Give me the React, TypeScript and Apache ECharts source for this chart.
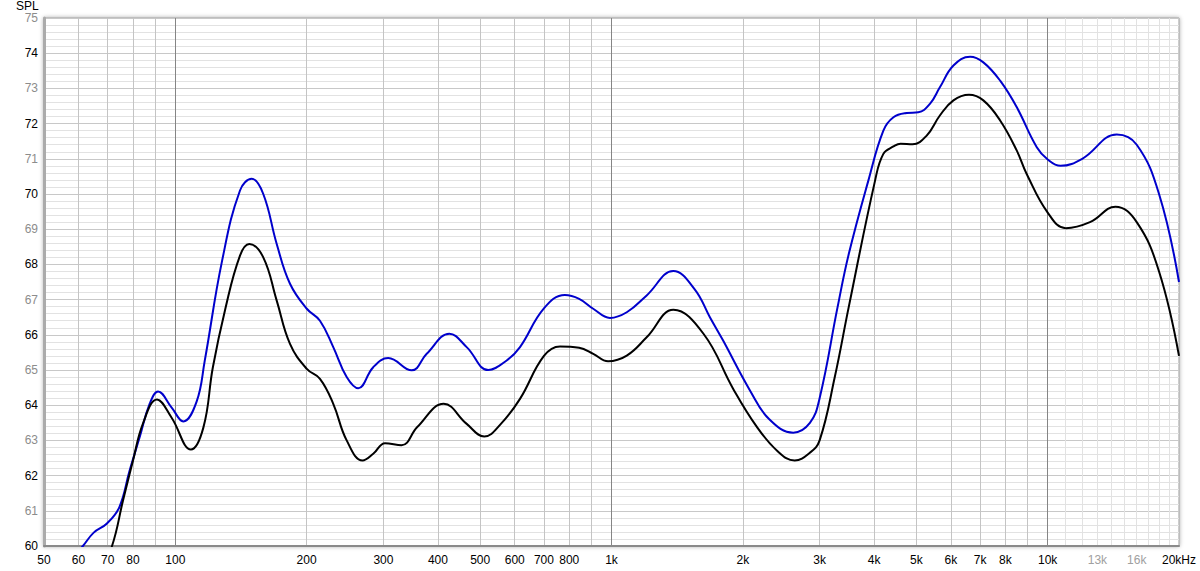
import React, { useEffect, useRef } from "react";
import * as echarts from "echarts";

// Frequency response data (Hz, dB SPL)
const blueFreq = [57, 61.4, 65, 69.7, 74.4, 78.6, 82.8, 87.4, 91.3, 98, 104.3, 111.9, 116.8, 128, 140.7, 149.7, 159.1, 170.8, 183.2, 200.2, 214.6, 230.2, 247.1, 262.7, 284.3, 307.7, 348.3, 377, 424.9, 465.6, 521.7, 575, 616.9, 700, 782, 843, 908, 992, 1084, 1204, 1386, 1550, 1681, 1800, 2077, 2300, 2610, 2850, 3000, 3300, 3500, 3880, 4200, 4430, 4750, 5050, 5370, 5660, 6080, 6640, 7120, 7780, 8490, 9440, 10000, 10700, 12000, 14400, 16000, 18000, 20000];
const blueSpl = [59.55, 60.0, 60.38, 60.64, 61.1, 62.15, 63.08, 64.05, 64.39, 63.94, 63.54, 64.1, 65.26, 68.1, 70.1, 70.43, 70.0, 68.58, 67.45, 66.74, 66.4, 65.65, 64.8, 64.48, 65.08, 65.34, 64.99, 65.46, 66.03, 65.65, 65.0, 65.27, 65.65, 66.75, 67.13, 67.02, 66.74, 66.48, 66.64, 67.12, 67.81, 67.3, 66.5, 65.85, 64.42, 63.6, 63.22, 63.5, 64.2, 66.8, 68.3, 70.38, 71.8, 72.18, 72.3, 72.32, 72.56, 73.03, 73.65, 73.9, 73.74, 73.22, 72.47, 71.33, 70.98, 70.8, 71.0, 71.69, 71.4, 70.0, 67.5];

const blackFreq = [68, 71.6, 75.9, 80, 84.3, 90.8, 98, 108.6, 116, 121.9, 130, 140.7, 147.8, 159.1, 170.8, 183.2, 200.2, 214.6, 230.2, 247.1, 268.7, 284.3, 302.6, 330, 358.7, 412.4, 465.6, 510.9, 557.7, 616.9, 700, 762, 843, 908, 982, 1084, 1204, 1386, 1625, 1900, 2150, 2400, 2630, 2850, 3000, 3250, 3500, 4020, 4200, 4430, 4600, 4900, 5280, 5660, 6080, 6600, 7120, 7780, 8490, 8950, 10000, 11000, 12500, 14300, 16000, 18000, 20000];
const blackSpl = [59.5, 60.0, 61.3, 62.43, 63.48, 64.16, 63.65, 62.74, 63.37, 65.07, 66.7, 68.25, 68.58, 68.2, 66.97, 65.74, 65.03, 64.75, 64.04, 63.0, 62.43, 62.62, 62.92, 62.86, 63.38, 64.04, 63.47, 63.11, 63.47, 64.18, 65.4, 65.67, 65.63, 65.46, 65.25, 65.41, 65.93, 66.71, 66.03, 64.47, 63.4, 62.7, 62.43, 62.65, 63.0, 64.8, 66.8, 70.38, 71.14, 71.35, 71.43, 71.41, 71.66, 72.23, 72.66, 72.82, 72.66, 72.09, 71.24, 70.57, 69.47, 69.03, 69.2, 69.64, 69.2, 67.8, 65.4];

// Axis ticks
const gridFreqs = [60, 70, 80, 90, 200, 300, 400, 500, 600, 700, 800, 900, 2000, 3000, 4000, 5000, 6000, 7000, 8000, 9000];
const darkFreqs = [100, 1000, 10000];
const fineFreqs = [11000, 12000, 13000, 14000, 15000, 16000, 17000, 18000, 19000];
const labelFreqs = [50, 60, 70, 80, 100, 200, 300, 400, 500, 600, 700, 800, 1000, 2000, 3000, 4000, 5000, 6000, 7000, 8000, 10000, 13000, 16000, 20000];
const grayLabelFreqs = [13000, 16000];
const yMin = 60;
const yMax = 75;

const FMIN = 50;
const FMAX = 20000;
const lg = (f: number) => Math.log10(f);

function fmtFreq(f: number) {
  if (f === 20000) return "20kHz";
  if (f >= 1000) return f / 1000 + "k";
  return String(f);
}

const FONT = "'Liberation Sans', Arial, sans-serif";

export default function App() {
  const ref = useRef<HTMLDivElement>(null);
  useEffect(() => {
    if (!ref.current) return;
    const chart = echarts.init(ref.current, undefined, { renderer: "svg" });
    const baseX = {
      type: "value",
      min: lg(FMIN),
      max: lg(FMAX),
      gridIndex: 0,
    };
    const hiddenX = (vals: number[], color: string) => ({
      ...baseX,
      position: "bottom",
      axisLine: { show: false },
      axisLabel: { show: false },
      axisTick: { show: false, customValues: vals.map(lg) },
      splitLine: { show: true, lineStyle: { color, width: 1 } },
    });
    chart.setOption({
      animation: false,
      backgroundColor: "#ffffff",
      textStyle: { fontFamily: FONT },
      grid: {
        left: 44,
        right: 21,
        top: 18,
        bottom: 25,
        show: true,
        backgroundColor: "#ffffff",
        borderColor: "#9a9a9a",
        borderWidth: 1,
        shadowColor: "rgba(0,0,0,0.35)",
        shadowBlur: 4,
      },
      graphic: [
        {
          type: "text",
          left: 16,
          top: 0,
          style: { text: "SPL", fill: "#000", font: "12px " + FONT, lineHeight: 11 },
        },
      ],
      xAxis: [
        {
          ...baseX,
          position: "bottom",
          axisLine: { show: true, lineStyle: { color: "#8a8a8a", width: 2 } },
          axisTick: { show: false, customValues: fineFreqs.map(lg) },
          axisLabel: {
            show: true,
            customValues: labelFreqs.map(lg),
            formatter: (v: number) => fmtFreq(Math.round(Math.pow(10, v))),
            color: (v: any) => {
              const f = Math.round(Math.pow(10, Number(v)));
              return grayLabelFreqs.includes(f) ? "#a0a0a0" : "#000000";
            },
            fontSize: 12,
            fontFamily: FONT,
            margin: 8,
            showMinLabel: true,
            showMaxLabel: true,
            hideOverlap: false,
          },
          splitLine: { show: true, lineStyle: { color: "#e2e2e2", width: 1 } },
        },
        hiddenX(gridFreqs, "#c4c4c4"),
        hiddenX(darkFreqs, "#858585"),
      ],
      yAxis: {
        type: "value",
        min: yMin,
        max: yMax,
        interval: 1,
        axisLine: { show: true, lineStyle: { color: "#ababab", width: 3 } },
        axisTick: { show: false },
        axisLabel: {
          fontSize: 12,
          fontFamily: FONT,
          margin: 6,
          color: (v: any) => (Math.round(Number(v)) % 2 === 0 ? "#000000" : "#8c8c8c"),
        },
        splitLine: { show: true, lineStyle: { color: "#c8c8c8", width: 1 } },
        minorTick: { show: false, splitNumber: 5 },
        minorSplitLine: { show: true, lineStyle: { color: "#e2e2e2", width: 1 } },
      },
      series: [
        {
          type: "line",
          name: "blue",
          xAxisIndex: 0,
          data: blueFreq.map((f, i) => [lg(f), blueSpl[i]]),
          smooth: 0.42,
          showSymbol: false,
          clip: true,
          lineStyle: { color: "#0000cc", width: 2 },
          z: 5,
        },
        {
          type: "line",
          name: "black",
          xAxisIndex: 0,
          data: blackFreq.map((f, i) => [lg(f), blackSpl[i]]),
          smooth: 0.42,
          showSymbol: false,
          clip: true,
          lineStyle: { color: "#000000", width: 2 },
          z: 6,
        },
      ],
    });
    return () => chart.dispose();
  }, []);
  return (
    <div
      ref={ref}
      style={{ position: "fixed", left: 0, top: 0, width: 1200, height: 571 }}
    />
  );
}
